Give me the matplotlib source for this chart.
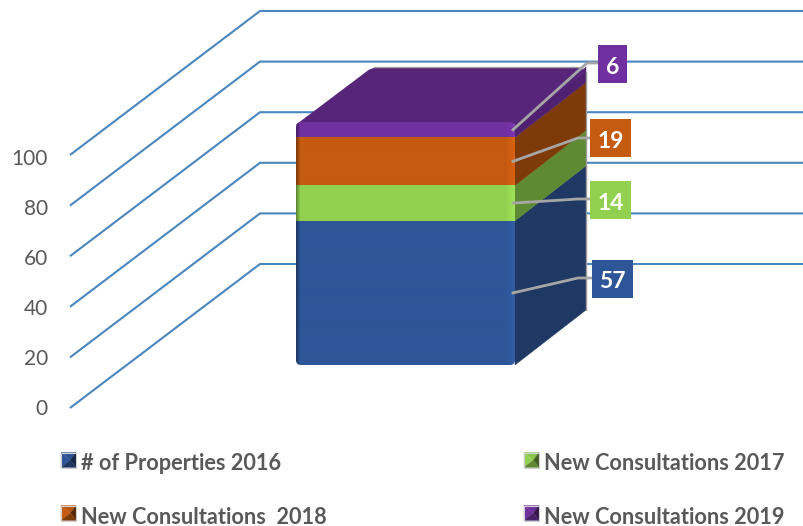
import numpy as np
import matplotlib
matplotlib.use("Agg")
import matplotlib.pyplot as plt
from matplotlib.patches import Polygon, FancyBboxPatch
from matplotlib.colors import to_rgb

series_names = ["# of Properties 2016", "New Consultations 2017",
                "New Consultations  2018", "New Consultations 2019"]
series_values = [57, 14, 19, 6]
tick_values = [0, 20, 40, 60, 80, 100]

front_colors = ["#2E5597", "#92D050", "#C55A11", "#7030A0"]
side_colors = ["#1F3864", "#5E8A33", "#7F3A0A", "#4F2170"]
top_color = "#57267A"
grid_color = "#4A86BF"
text_color = "#595959"

W, H = 804, 526
PX = 2.53            # pixels per value unit
Y0 = 365             # pixel row of value 0 on the bar front
plt.rcParams["font.family"] = ["Lato", "DejaVu Sans"]

fig = plt.figure(figsize=(W / 100, H / 100), dpi=100)
ax = fig.add_axes([0, 0, 1, 1])
ax.set_xlim(0, W)
ax.set_ylim((Y0 - H) / PX, Y0 / PX)
ax.axis("off")

# overlay in pixel units for labels and legend
ov = fig.add_axes([0, 0, 1, 1], zorder=5)
ov.set_xlim(0, W)
ov.set_ylim(H, 0)
ov.axis("off")
ov.patch.set_alpha(0)

# depth offsets
floor_left_dv = -43 / PX
wall_dv = 101 / PX
depth_dx, depth_dv = 71, 55 / PX
x0, x1 = 296, 515

# grid: slanted floor/side wall then back wall
for t in tick_values:
    ax.plot([70, 260, W], [t + floor_left_dv, t + wall_dv, t + wall_dv],
            color=grid_color, lw=1.5, zorder=1, solid_capstyle="butt")
    ov.text(48, 407 - 2.5 * t, str(t), ha="right", va="center_baseline",
            fontsize=15, color=text_color)

cum = np.concatenate([[0], np.cumsum(series_values)])
total = cum[-1]


def shade(color, n=219):
    """horizontal gradient with darker left edge and lighter right edge"""
    c = np.array(to_rgb(color))
    row = np.tile(c, (n, 1))
    for i in range(4):
        row[i] = c * (0.65 + 0.35 * i / 4)
    for i in range(10):
        row[n - 1 - i] = np.clip(c * (1 + 0.09 * (1 - i / 10)), 0, 1)
    return row[np.newaxis, :, :]


# side faces and top
for i, (lo, hi) in enumerate(zip(cum[:-1], cum[1:])):
    ax.add_patch(Polygon([(x1, lo), (x1 + depth_dx, lo + depth_dv),
                          (x1 + depth_dx, hi + depth_dv), (x1, hi)],
                         closed=True, fc=side_colors[i], ec=side_colors[i],
                         lw=0.3, zorder=3))
ax.plot([x1 + depth_dx] * 2, [depth_dv, total + depth_dv - 2], color="#9A9A9A", lw=1.0, zorder=3.2)
ax.add_patch(Polygon([(x0, total - 1), (x0 + depth_dx + 2, total + depth_dv - 1),
                      (x0 + depth_dx + 9, total + depth_dv),
                      (x1 + depth_dx - 6, total + depth_dv),
                      (x1 + depth_dx, total + depth_dv - 2), (x1, total - 1)],
                     closed=True, fc=top_color, ec="none", zorder=3))
ax.plot([x0 + depth_dx + 7, x1 + depth_dx - 6], [total + depth_dv] * 2,
        color="#A0A0A0", lw=1.0, zorder=3.1)

# front faces, clipped to a rounded outline
clip = FancyBboxPatch((x0, 0), x1 - x0, total, boxstyle="round,pad=0,rounding_size=5",
                      mutation_aspect=1 / PX, transform=ax.transData, fc="none", ec="none")
ax.add_patch(clip)
for i, (lo, hi) in enumerate(zip(cum[:-1], cum[1:])):
    im = ax.imshow(shade(front_colors[i]), extent=[x0, x1, lo, hi], aspect="auto",
                   interpolation="bilinear", zorder=4)
    im.set_clip_path(clip)
ax.set_xlim(0, W)
ax.set_ylim((Y0 - H) / PX, Y0 / PX)

# leader lines and value boxes (px placement of the labels)
boxes = [(592, 260, 41, 38), (590, 181, 41, 38), (590, 119, 41, 38), (598, 45, 29, 38)]
elbows = [(578, 278), (578, 199), (578, 138), (587, 63)]
mids = (cum[:-1] + cum[1:]) / 2
for i, v in enumerate(series_values):
    bx, by, bw, bh = boxes[i]
    ex, ey = elbows[i]
    sy = Y0 - mids[i] * PX
    ov.plot([513, ex, bx], [sy, ey, ey], color="#A6A6A6", lw=2, zorder=6,
            solid_joinstyle="round")
    ov.add_patch(plt.Rectangle((bx, by), bw, bh, fc=front_colors[i], ec="none", zorder=7))
    ov.text(bx + bw / 2, by + bh / 2 + 1, str(v), ha="center", va="center_baseline",
            color="white", fontsize=16.5, fontweight="bold", zorder=8)

# legend
legend_pos = [(61, 460), (524, 460), (61, 513), (524, 513)]


def legend_key(x, yc, color, s=15):
    c = np.array(to_rgb(color))
    yt, yb = yc - s / 2, yc + s / 2
    cx, cy = x + s / 2, yc
    faces = [([(x, yt), (x + s, yt), (cx + 2, cy)], c * 0.95),
             ([(x, yt), (x, yb), (cx + 2, cy)], c),
             ([(x + s, yt), (x + s, yb), (cx + 2, cy)], c * 0.45),
             ([(x, yb), (x + s, yb), (cx + 2, cy)], c * 0.65)]
    for pts, col in faces:
        ov.add_patch(Polygon(pts, closed=True, fc=col, ec=col, lw=0.2, zorder=6))
    ov.add_patch(plt.Rectangle((x, yt), s, s, fc="none", ec="#D0D0D0", lw=0.8, zorder=6.5))


for (lx, ly), name, col in zip(legend_pos, series_names, front_colors):
    legend_key(lx, ly, col)
    ov.text(lx + 20, ly + 2, name, ha="left", va="center_baseline", fontsize=15.7,
            fontweight="bold", color=text_color)

fig.savefig("out.png", dpi=100, facecolor="white")
